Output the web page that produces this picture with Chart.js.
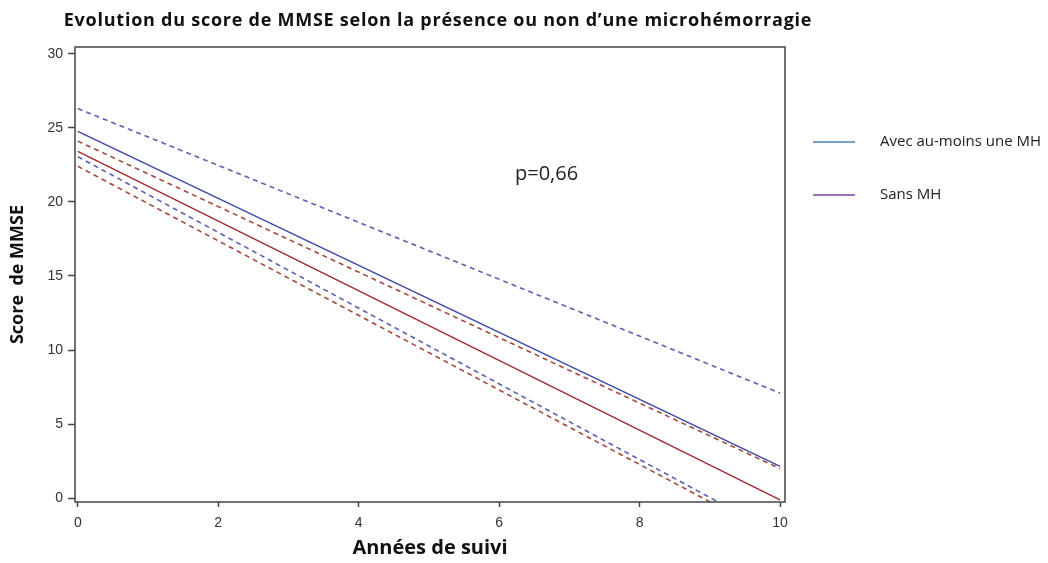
<!DOCTYPE html>
<html>
<head>
    <title>Evolution du score de MMSE</title>
    <script src="https://cdn.jsdelivr.net/npm/chart.js"></script>
    <style>
        body { margin: 0; background: #fff; }
        #wrap { width: 1048px; height: 563px; position: relative; }
    </style>
</head>
<body>

<div id="wrap"><canvas id="mmseChart"></canvas></div>

<script>
// years of follow-up (ends of each fitted line)
const years = [0, 10];

// fitted MMSE score and confidence bounds
const avecMH = [24.75, 2.15];
const avecMHHaut = [26.3, 7.1];
const avecMHBas = [23.05, -2.5];
const sansMH = [23.4, -0.1];
const sansMHHaut = [24.1, 2.0];
const sansMHBas = [22.4, -2.75];

const xTicks = [0, 2, 4, 6, 8, 10];
const yTicks = [0, 5, 10, 15, 20, 25, 30];

const legendItems = [
    { label: 'Avec au-moins une MH', color: '#4a7cc4' },
    { label: 'Sans MH', color: '#7a3aa8' }
];
const pText = 'p=0,66';

function pts(ys) {
    return years.map(function(x, i) { return { x: x, y: ys[i] }; });
}

function ds(label, ys, color, dashed) {
    return {
        label: label,
        data: pts(ys),
        borderColor: color,
        borderWidth: dashed ? 1.6 : 1.4,
        borderDash: dashed ? [5, 4] : [],
        pointRadius: 0,
        fill: false
    };
}

// frame, title, legend and p-value
const extras = {
    id: 'extras',
    afterDraw: function(chart) {
        const ctx = chart.ctx;
        const a = chart.chartArea;
        ctx.save();
        ctx.strokeStyle = '#444';
        ctx.lineWidth = 1.5;
        ctx.strokeRect(a.left, a.top, a.right - a.left, a.bottom - a.top);

        ctx.fillStyle = '#111';
        ctx.font = 'bold 18px "Open Sans"';
        ctx.letterSpacing = '0.75px';
        ctx.textAlign = 'center';
        ctx.textBaseline = 'middle';
        ctx.fillText('Evolution du score de MMSE selon la pr\u00e9sence ou non d\u2019une microh\u00e9morragie', 438, 21);
        ctx.letterSpacing = '0px';

        ctx.font = '15px "Open Sans"';
        ctx.textAlign = 'left';
        legendItems.forEach(function(item, i) {
            const y = 142 + i * 53;
            ctx.strokeStyle = item.color;
            ctx.lineWidth = 1.5;
            ctx.beginPath();
            ctx.moveTo(813, y);
            ctx.lineTo(855, y);
            ctx.stroke();
            ctx.fillStyle = '#222';
            ctx.fillText(item.label, 880, y);
        });

        ctx.font = '20px "Open Sans"';
        ctx.fillText(pText, 515, 174);
        ctx.restore();
    }
};

const ctx = document.getElementById('mmseChart').getContext('2d');
new Chart(ctx, {
    type: 'line',
    data: {
        datasets: [
            ds('Avec au-moins une MH', avecMH, '#3c48a8', false),
            ds('Avec MH haut', avecMHHaut, '#5862b0', true),
            ds('Avec MH bas', avecMHBas, '#5862b0', true),
            ds('Sans MH', sansMH, '#a02a30', false),
            ds('Sans MH haut', sansMHHaut, '#a44a3c', true),
            ds('Sans MH bas', sansMHBas, '#a44a3c', true)
        ]
    },
    options: {
        responsive: true,
        maintainAspectRatio: false,
        animation: false,
        layout: { padding: { left: 0, right: 263, top: 47, bottom: 0 } },
        scales: {
            x: {
                type: 'linear',
                min: -0.04,
                max: 10.07,
                afterBuildTicks: function(s) { s.ticks = xTicks.map(function(v) { return { value: v }; }); },
                afterFit: function(s) { s.height = 61; },
                grid: { drawOnChartArea: false, tickLength: 5, color: '#444', tickWidth: 1.5 },
                border: { display: false },
                ticks: { color: '#333', font: { family: 'Liberation Sans', size: 14 }, padding: 8, maxRotation: 0 },
                title: {
                    display: true,
                    text: 'Ann\u00e9es de suivi',
                    color: '#111',
                    font: { family: 'Open Sans', size: 20, weight: 'bold' },
                    padding: { top: 0, bottom: 3 }
                }
            },
            y: {
                min: -0.25,
                max: 30.45,
                afterBuildTicks: function(s) { s.ticks = yTicks.map(function(v) { return { value: v }; }); },
                afterFit: function(s) { s.width = 75; },
                grid: { drawOnChartArea: false, tickLength: 7, color: '#444', tickWidth: 1.5 },
                border: { display: false },
                ticks: { color: '#333', font: { family: 'Liberation Sans', size: 14 }, padding: 5 },
                title: {
                    display: true,
                    text: 'Score  de MMSE',
                    color: '#111',
                    font: { family: 'Open Sans', size: 18, weight: 'bold' },
                    padding: { top: 7, bottom: 0 }
                }
            }
        },
        plugins: {
            legend: { display: false },
            tooltip: { enabled: false }
        }
    },
    plugins: [extras]
});
</script>

</body>
</html>
